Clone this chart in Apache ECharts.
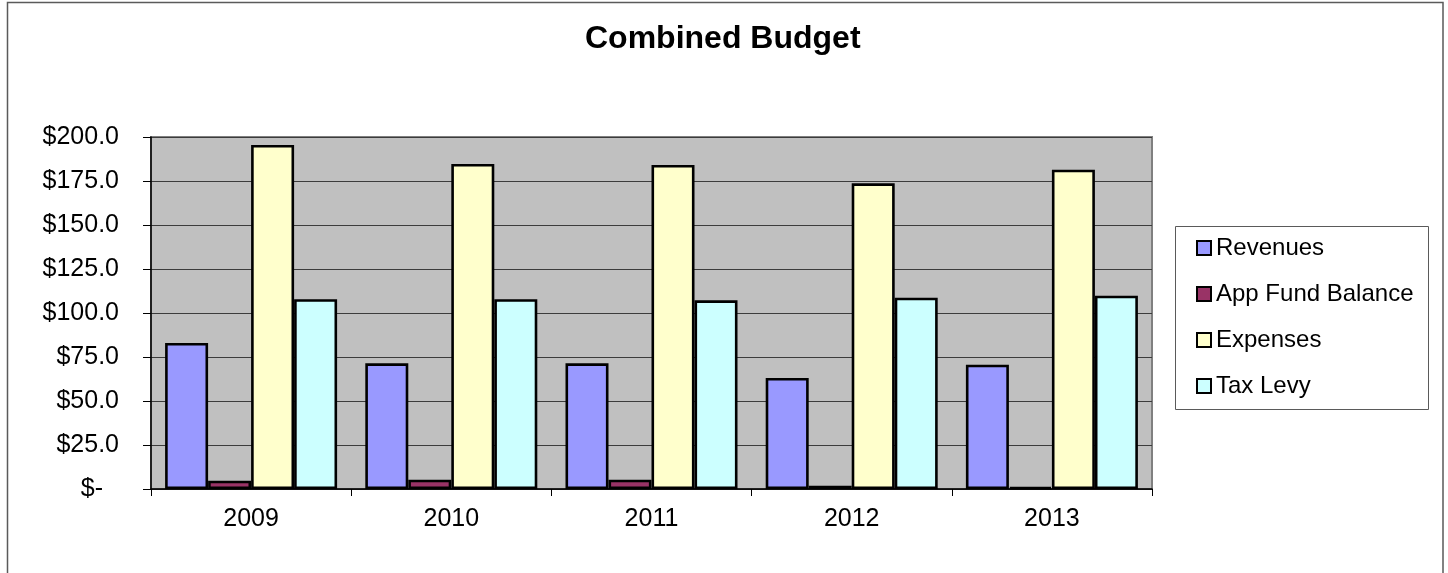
<!DOCTYPE html>
<html>
<head>
<meta charset="utf-8">
<title>Combined Budget</title>
<script src="https://cdn.jsdelivr.net/npm/echarts@6/dist/echarts.min.js"></script>
<style>
  html, body { margin: 0; padding: 0; background: #ffffff; }
  #chart { width: 1448px; height: 573px; }
</style>
</head>
<body>
<div id="chart"></div>
<script>
// Budget figures in millions of dollars
const years = ['2009', '2010', '2011', '2012', '2013'];
const revenues = [83.0, 71.4, 71.4, 63.1, 70.6];
const appFundBalance = [4.7, 5.3, 5.3, 1.8, 1.0];
const expenses = [195.5, 184.7, 184.1, 173.7, 181.4];
const taxLevy = [107.8, 107.8, 107.2, 108.7, 109.8];

const seriesNames = ['Revenues', 'App Fund Balance', 'Expenses', 'Tax Levy'];
const seriesColors = ['#9999FF', '#993366', '#FFFFCC', '#CCFFFF'];
const seriesValues = [revenues, appFundBalance, expenses, taxLevy];

const FONT = '"Liberation Sans", Arial, sans-serif';

const chart = echarts.init(document.getElementById('chart'), null, { renderer: 'canvas' });

chart.setOption({
  backgroundColor: '#ffffff',
  animation: false,
  title: {
    text: 'Combined Budget',
    left: 585,
    top: 23,
    padding: 0,
    textStyle: { fontFamily: FONT, fontSize: 32, fontWeight: 'bold', color: '#000000' }
  },
  graphic: [
    {
      type: 'rect',
      shape: { x: 7.5, y: 2.5, width: 1435.5, height: 590 },
      style: { fill: null, stroke: '#5a5a5a', lineWidth: 1.5 },
      silent: true,
      z: -1
    },
    {
      type: 'rect',
      shape: { x: 1175.5, y: 226.5, width: 253, height: 183 },
      style: { fill: '#ffffff', stroke: '#5a5a5a', lineWidth: 1 },
      silent: true,
      z: 0
    }
  ],
  legend: {
    orient: 'vertical',
    left: 1196,
    top: 236,
    padding: 0,
    itemWidth: 14,
    itemHeight: 14,
    itemGap: 22,
    icon: 'rect',
    itemStyle: { borderColor: '#000000', borderWidth: 2 },
    textStyle: { fontFamily: FONT, fontSize: 24, color: '#000000', lineHeight: 24 },
    data: seriesNames,
    z: 5
  },
  grid: {
    left: 151,
    right: 296,
    top: 137,
    bottom: 84,
    show: true,
    backgroundColor: '#c0c0c0',
    borderColor: '#808080',
    borderWidth: 2,
    containLabel: false
  },
  xAxis: {
    type: 'category',
    data: years,
    axisLine: { show: true, lineStyle: { color: '#000000', width: 1.5 } },
    axisTick: { show: true, alignWithLabel: false, length: 7, lineStyle: { color: '#000000', width: 1 } },
    axisLabel: { margin: 18, fontFamily: FONT, fontSize: 25, color: '#000000' },
    splitLine: { show: false }
  },
  yAxis: {
    type: 'value',
    min: 0,
    max: 200,
    interval: 25,
    axisLine: { show: true, lineStyle: { color: '#000000', width: 1.5 } },
    axisTick: { show: true, length: 8, lineStyle: { color: '#000000', width: 1 } },
    axisLabel: {
      margin: 32,
      fontFamily: FONT,
      fontSize: 25,
      color: '#000000',
      formatter: function (v) {
        return v === 0 ? '{z|$-}' : '$' + v.toFixed(1);
      },
      rich: {
        z: { fontFamily: FONT, fontSize: 25, color: '#000000', padding: [0, 16, 0, 0] }
      }
    },
    splitLine: { show: true, lineStyle: { color: '#3c3c3c', width: 1.2 } }
  },
  series: seriesNames.map(function (name, i) {
    return {
      name: name,
      type: 'bar',
      data: seriesValues[i],
      barWidth: 43,
      barGap: '0%',
      itemStyle: { color: seriesColors[i], borderColor: '#000000', borderWidth: 2.6 },
      emphasis: { disabled: true }
    };
  })
});
</script>
</body>
</html>
